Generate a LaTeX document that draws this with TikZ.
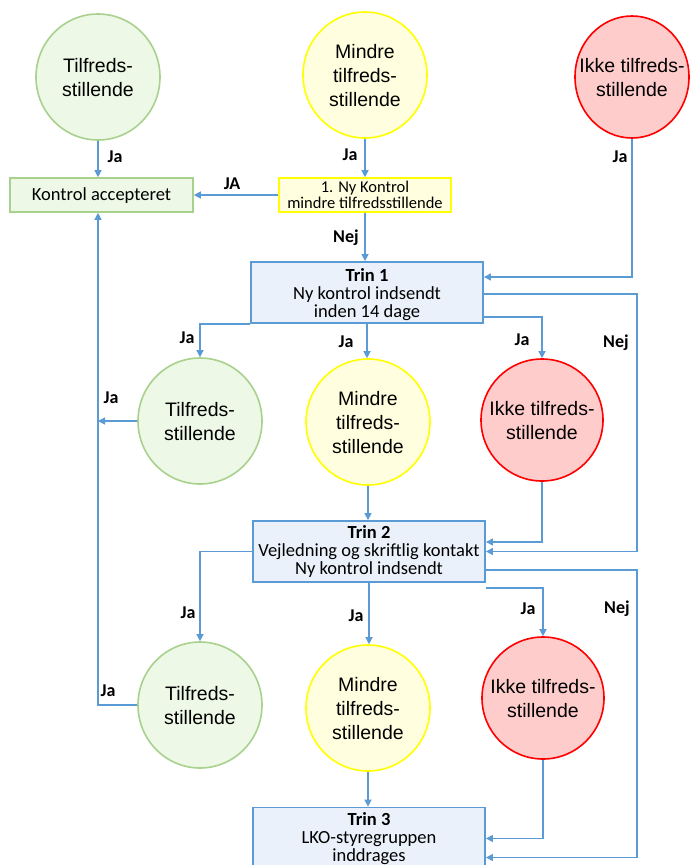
\documentclass[tikz,border=0pt]{standalone}
\usepackage{fontspec}
\setmainfont{Carlito}
\newfontfamily\ellfont{Liberation Sans}
\usetikzlibrary{shapes.geometric,arrows.meta,calc}

\definecolor{lineblue}{HTML}{5B9BD5}
\definecolor{boxfill}{HTML}{EAF1FA}
\definecolor{okline}{HTML}{A9D18E}
\definecolor{okfill}{HTML}{EEF8E6}
\definecolor{midline}{HTML}{FFFF00}
\definecolor{midfill}{HTML}{FFFFE0}
\definecolor{badline}{HTML}{FF0000}
\definecolor{badfill}{HTML}{FFCCCC}

% zero-width centred text block, so the ellipse keeps its own size
\newcommand\elltext[1]{\makebox[0pt]{\raisebox{-2.5pt}[\height][\depth]{\begin{tabular}{@{}c@{}}#1\end{tabular}}}}
% centred text block set a little lower than the middle of its box
\newcommand\lowtext[2]{\raisebox{-#1}[\height][\depth]{\begin{tabular}{@{}c@{}}#2\end{tabular}}}

\tikzset{
  circ/.style={ellipse, line width=1.6pt, inner sep=0pt, minimum width=124pt,
    minimum height=126pt,
    font=\ellfont\fontsize{19.5}{24}\selectfont},
  okcirc/.style={circ, draw=okline, fill=okfill},
  midcirc/.style={circ, draw=midline, fill=midfill},
  badcirc/.style={circ, draw=badline, fill=badfill, minimum width=114pt, minimum height=122pt},
  stagebox/.style={rectangle, draw=lineblue, fill=boxfill, line width=1.8pt,
    minimum width=232pt, minimum height=61pt, inner sep=0pt, align=center,
    font=\fontsize{18.5}{18}\selectfont},
  arr/.style={draw=lineblue, line width=1.2pt, -{Triangle[length=7pt,width=7pt]}},
  lbl/.style={font=\bfseries\fontsize{18}{20}\selectfont, inner sep=0pt}
}

\begin{document}
\begin{tikzpicture}[x=1pt,y=-1pt]
\useasboundingbox[fill=white] (0,0) rectangle (689,865);

% top row of outcomes
\node[okcirc]  (g0) at (98,77)  {\elltext{Tilfreds-\\stillende}};
\node[midcirc] (y0) at (365,75) {\elltext{Mindre\\tilfreds-\\stillende}};
\node[badcirc] (r0) at (632,77) {\elltext{Ikke tilfreds-\\stillende}};

% result boxes
\node[rectangle, draw=okline, fill=okfill, line width=1.6pt, minimum width=183pt,
      minimum height=34pt, inner sep=0pt, font=\fontsize{18.5}{18}\selectfont]
      (acc) at (101.5,195) {\lowtext{2pt}{Kontrol accepteret}};
\node[rectangle, draw=midline, fill=midfill, line width=1.6pt, minimum width=172pt,
      minimum height=34pt, inner sep=0pt, align=center, font=\fontsize{16.5}{16.5}\selectfont]
      (ybox) at (365,195) {1. Ny Kontrol\\mindre tilfredsstillende};

% stages
\node[stagebox] (t1) at (367,292.5) {\lowtext{3pt}{\textbf{Trin 1}\\Ny kontrol indsendt\\inden 14 dage}};
\node[stagebox] (t2) at (369,551.5) {\textbf{Trin 2}\\Vejledning og skriftlig kontakt\\Ny kontrol indsendt};
\node[stagebox, minimum height=62pt] (t3) at (369,838.5) {\textbf{Trin 3}\\LKO-styregruppen\\inddrages};

% second row of outcomes
\node[okcirc]  (g1) at (200,421) {\elltext{Tilfreds-\\stillende}};
\node[midcirc] (y1) at (368,422) {\elltext{Mindre\\tilfreds-\\stillende}};
\node[badcirc, minimum width=122pt] (r1) at (542,420) {\elltext{Ikke tilfreds-\\stillende}};

% third row of outcomes
\node[okcirc]  (g2) at (200,705) {\elltext{Tilfreds-\\stillende}};
\node[midcirc] (y2) at (368,708) {\elltext{Mindre\\tilfreds-\\stillende}};
\node[badcirc, minimum width=122pt] (r2) at (543,698) {\elltext{Ikke tilfreds-\\stillende}};

\coordinate (accin) at ([xshift=-3.5pt]acc.south);

% connectors from the top row
\draw[arr] (g0.south) -- (g0.south |- acc.north);
\draw[arr] (y0.south) -- (y0.south |- ybox.north);
\draw[arr] (ybox.west) -- (acc.east);
\draw[arr] (ybox.south) -- (ybox.south |- t1.north);
\draw[arr] (r0.south) |- ([yshift=15.5pt]t1.east);

% connectors from stage 1
\draw[arr] ([yshift=-1.5pt]t1.east) -- ++(153,0) |- (t2.east);
\draw[arr] (t1.south west) -| (g1.north);
\draw[arr] (t1.south) -- (t1.south |- y1.north);
\draw[arr] ([yshift=7pt]t1.south east) -| (r1.north);

% connectors from the second row
\draw[arr] (g1.west) -- (accin |- g1.west);
\draw[arr] (g2.west) -| (accin);
\draw[arr] (y1.south) -- (y1.south |- t2.north);
\draw[arr] (r1.south) |- ([yshift=9.5pt]t2.east);

% connectors from stage 2
\draw[arr] (t2.west) -| (g2.north);
\draw[arr] (t2.south) -- (t2.south |- y2.north);
\draw[arr] ([yshift=-5pt]t2.south east) -| (r2.north);
\draw[arr] ([yshift=-18.5pt]t2.east) -- ++(151,0) |- ([yshift=-19pt]t3.east);

% connectors from the third row
\draw[arr] (y2.south) -- (y2.south |- t3.north);
\draw[arr] (r2.south) |- (t3.east);

% labels
\node[lbl] (l1)  at (115,157) {Ja};
\node[lbl] (l2)  at (350,155) {Ja};
\node[lbl] (l3)  at (620,157) {Ja};
\node[lbl] (l4)  at (232,184) {JA};
\node[lbl] (l5)  at (346,238) {Nej};
\node[lbl] (l6)  at (187,338) {Ja};
\node[lbl] (l7)  at (346,342) {Ja};
\node[lbl] (l8)  at (522,340) {Ja};
\node[lbl] (l9)  at (616,343) {Nej};
\node[lbl] (l10) at (111,398) {Ja};
\node[lbl] (l11) at (188,613) {Ja};
\node[lbl] (l12) at (356,616) {Ja};
\node[lbl] (l13) at (528,609) {Ja};
\node[lbl] (l14) at (617,609) {Nej};
\node[lbl] (l15) at (108,691) {Ja};
\end{tikzpicture}
\end{document}
